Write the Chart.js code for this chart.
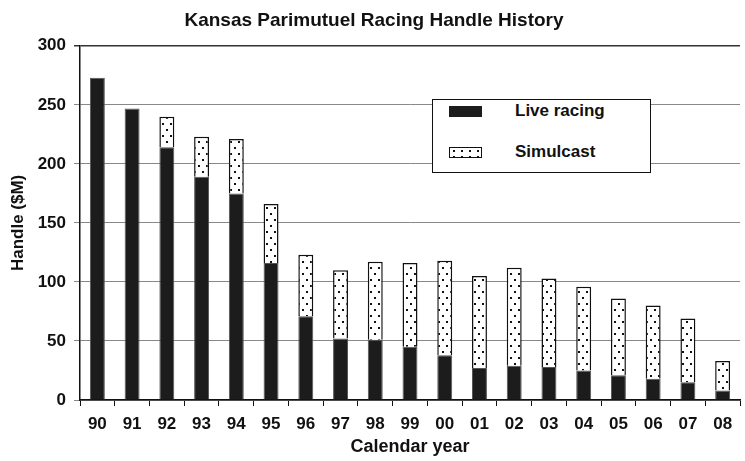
<!DOCTYPE html>
<html>
<head>
<meta charset="utf-8">
<script src="https://cdn.jsdelivr.net/npm/chart.js@4/dist/chart.umd.min.js"></script>
<style>
  html,body{margin:0;padding:0;background:#fff;}
  #wrap{position:relative;width:745px;height:461px;}
  #legend{position:absolute;left:432px;top:99px;width:219px;height:74px;border:1.5px solid #111;background:#fff;
    font-family:"Liberation Sans",Arial,sans-serif;font-weight:bold;font-size:17px;color:#111;box-sizing:border-box;}
  .item{position:absolute;left:16px;display:flex;align-items:center;}
  .sw{width:33px;height:11px;box-sizing:border-box;margin-right:33px;}
</style>
</head>
<body>
<div id="wrap">
  <canvas id="c" width="745" height="461"></canvas>
  <div id="legend"></div>
</div>
<script>
const years = ["90","91","92","93","94","95","96","97","98","99","00","01","02","03","04","05","06","07","08"];
const liveRacing = [273,247,214,189,175,116,71,52,51,45,38,27,29,28,25,21,18,15,8];
const simulcast  = [0,0,26,34,46,50,52,58,66,71,80,78,83,75,71,65,62,54,25];
const yTicks = [0,50,100,150,200,250,300];
const seriesNames = ["Live racing","Simulcast"];

function dotPattern(){
  const p = document.createElement('canvas');
  p.width = 8; p.height = 12;
  const g = p.getContext('2d');
  g.fillStyle = '#fff'; g.fillRect(0,0,8,12);
  g.fillStyle = '#111';
  g.fillRect(2,3,2,2);
  g.fillRect(6,9,2,2);
  return g.createPattern(p,'repeat');
}
const ctx = document.getElementById('c').getContext('2d');
const dots = dotPattern();
const liveColor = '#1c1c1c';
const font = {family:'"Liberation Sans", Arial, sans-serif', weight:'bold'};

const chart = new Chart(ctx, {
  type:'bar',
  data:{
    labels: years,
    datasets:[
      {label:seriesNames[0], data:liveRacing, backgroundColor:liveColor, borderColor:'#555', borderWidth:1,
       barPercentage:0.43, categoryPercentage:1},
      {label:seriesNames[1], data:simulcast, backgroundColor:dots, borderColor:'#111',
       borderWidth:(c)=> c.raw ? 1.5 : 0, barPercentage:0.43, categoryPercentage:1}
    ]
  },
  options:{
    responsive:false, animation:false,
    layout:{padding:{left:8,right:5,top:0,bottom:0}},
    plugins:{
      legend:{display:false},
      tooltip:{enabled:false},
      title:{display:true, text:'Kansas Parimutuel Racing Handle History', color:'#111',
        font:{...font, size:19}, padding:{top:9,bottom:14}}
    },
    scales:{
      x:{stacked:true,
        afterFit:(s)=>{ s.height = 61; },
        grid:{offset:true, drawOnChartArea:false, drawTicks:true, tickLength:6, color:'#111', lineWidth:1},
        border:{display:true, color:'#111', width:1.5},
        ticks:{color:'#111', font:{...font,size:17}, padding:8, maxRotation:0, autoSkip:false},
        title:{display:true, text:'Calendar year', color:'#111', font:{...font,size:18}, padding:{top:0,bottom:3}}
      },
      y:{stacked:true, min:0, max:300,
        afterBuildTicks:(s)=>{ s.ticks = yTicks.map(v=>({value:v})); },
        afterFit:(s)=>{ s.width = 72; },
        grid:{color:(c)=> c.tick && c.tick.value===300 ? '#333' : '#888', lineWidth:(c)=> c.tick && c.tick.value===300 ? 1.5 : 1, tickLength:6},
        border:{display:true, color:'#111', width:1.5},
        ticks:{color:'#111', font:{...font,size:17}, padding:8},
        title:{display:true, text:'Handle ($M)', color:'#111', font:{...font,size:17}, padding:0}
      }
    }
  }
});

// HTML legend from datasets
const lg = document.getElementById('legend');
chart.data.datasets.forEach((ds,i)=>{
  const it = document.createElement('div');
  it.className='item';
  it.style.top = (i===0 ? 1 : 42) + 'px';
  const sw = document.createElement('span');
  sw.className='sw';
  if(i===0){ sw.style.background = liveColor; }
  else { sw.style.border='1.5px solid #111'; sw.style.background='#fff radial-gradient(circle,#111 1px,transparent 1.3px) 0 0/8px 6px'; }
  const tx = document.createElement('span');
  tx.textContent = ds.label;
  it.appendChild(sw); it.appendChild(tx);
  lg.appendChild(it);
});
</script>
</body>
</html>
